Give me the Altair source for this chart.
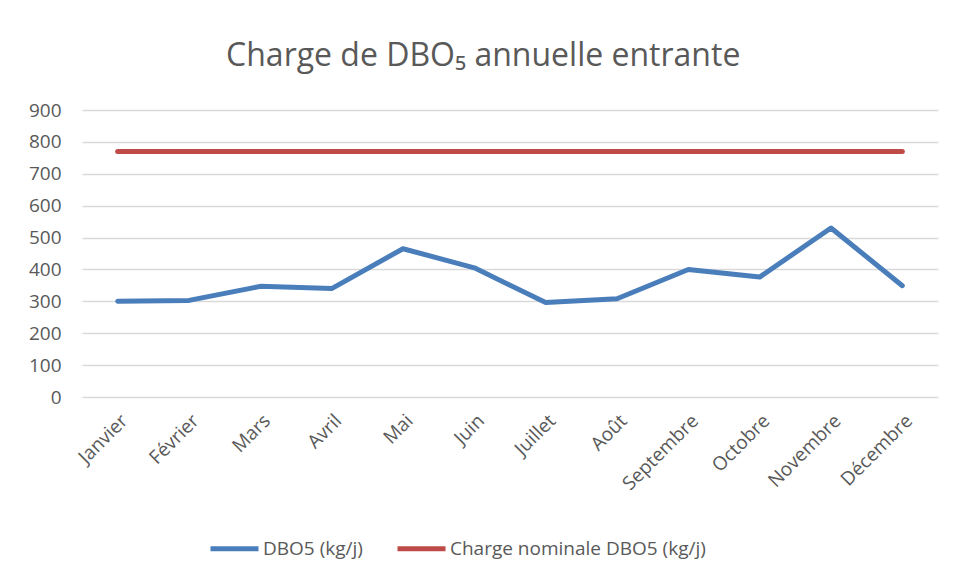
import altair as alt
import pandas as pd

months = ["Janvier", "Février", "Mars", "Avril", "Mai", "Juin", "Juillet",
          "Août", "Septembre", "Octobre", "Novembre", "Décembre"]
dbo5 = [300, 303, 347, 340, 465, 405, 296, 308, 400, 376, 530, 349]
nominale = [770, 770, 770, 770, 770, 770, 770, 770, 770, 770, 770, 770]
series_names = ["DBO5 (kg/j)", "Charge nominale DBO5 (kg/j)"]
series_colors = ["#4A7EBB", "#BE4B48"]
y_ticks = [0, 100, 200, 300, 400, 500, 600, 700, 800, 900]

rows = []
for m, v in zip(months, dbo5):
    rows.append({"Mois": m, "Valeur": v, "Série": series_names[0]})
for m, v in zip(months, nominale):
    rows.append({"Mois": m, "Valeur": v, "Série": series_names[1]})
df = pd.DataFrame(rows)

FONT = "Open Sans"
TXT = "#595959"

chart = alt.Chart(df).mark_line(
    strokeWidth=5, strokeCap="round", strokeJoin="round"
).encode(
    x=alt.X("Mois:N", sort=months,
            scale=alt.Scale(type="point", padding=0.5),
            axis=alt.Axis(title=None, labelAngle=-45, labelAlign="right",
                          labelBaseline="top", ticks=False, tickSize=0,
                          domain=False, grid=False, labelPadding=14,
                          labelFontSize=19, labelColor=TXT, labelFont=FONT)),
    y=alt.Y("Valeur:Q", scale=alt.Scale(domain=[0, 900]),
            axis=alt.Axis(title=None, values=y_ticks, ticks=False, tickSize=0,
                          domain=False, labelPadding=21, grid=True,
                          gridColor="#D9D9D9", gridWidth=1.5,
                          labelFontSize=19, labelColor=TXT, labelFont=FONT,
                          minExtent=50, maxExtent=50)),
    color=alt.Color("Série:N", sort=series_names,
                    scale=alt.Scale(domain=series_names, range=series_colors),
                    legend=alt.Legend(title=None, orient="none", legendX=126,
                                      legendY=412, direction="horizontal",
                                      symbolType="stroke", symbolSize=2304,
                                      symbolStrokeWidth=5, labelFontSize=19,
                                      labelColor=TXT, labelFont=FONT,
                                      labelLimit=500,
                                      columnPadding=24, labelOffset=2)),
).properties(
    width=856,
    height=287,
    title=alt.TitleParams("Charge de DBO₅ annuelle entrante", fontSize=32,
                          color=TXT, font=FONT, fontWeight="normal",
                          offset=28, frame="bounds", anchor="middle"),
    padding={"left": 20, "top": 32, "right": 5, "bottom": 5},
).configure_view(stroke=None)

chart.save("out.html", embed_options={"renderer": "svg", "actions": False})
